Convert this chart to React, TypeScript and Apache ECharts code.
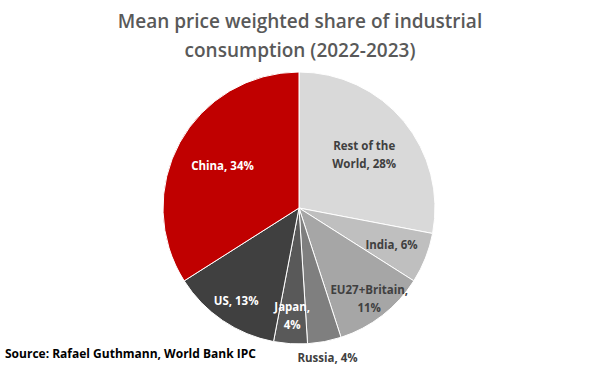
import React, { useEffect, useRef } from "react";
import * as echarts from "echarts";

const categories = ["Rest of the World", "India", "EU27+Britain", "Russia", "Japan", "US", "China"];
const shares = [28, 6, 11, 4, 4, 13, 34];
const labelTexts = ["Rest of the\nWorld, 28%", "India, 6%", "EU27+Britain,\n11%", "Russia, 4%", "Japan,\n4%", "US, 13%", "China, 34%"];
const sliceColors = ["#d9d9d9", "#bfbfbf", "#a6a6a6", "#7f7f7f", "#595959", "#404040", "#c00000"];
const labelColors = ["#404040", "#404040", "#404040", "#404040", "#ffffff", "#ffffff", "#ffffff"];
const labelRadial = [0.6, 0.71, 0.82, 1.1, 0.77, 0.8, 0.62];

const TITLE = "Mean price weighted share of industrial\nconsumption (2022-2023)";
const SOURCE = "Source: Rafael Guthmann, World Bank IPC";

export default function App() {
  const ref = useRef<HTMLDivElement>(null);
  useEffect(() => {
    document.body.style.margin = "0";
    const chart = echarts.init(ref.current!, null, { renderer: "svg" });
    const total = shares.reduce((a, b) => a + b, 0);
    const mids: number[] = [];
    let acc = 0;
    shares.forEach((v) => {
      mids.push(((acc + v / 2) / total) * Math.PI * 2);
      acc += v;
    });
    const R = 136;
    chart.setOption({
      animation: false,
      backgroundColor: "#ffffff",
      title: {
        text: TITLE,
        left: "center",
        top: 1,
        textStyle: {
          fontFamily: "Open Sans",
          fontWeight: 600,
          fontSize: 19,
          lineHeight: 29,
          color: "#595959",
        },
      },
      graphic: [
        {
          type: "text",
          left: 5,
          top: 347,
          style: {
            text: SOURCE,
            fontFamily: "Open Sans",
            fontWeight: "bold",
            fontSize: 12,
            fill: "#000000",
          },
        },
      ],
      series: [
        {
          type: "pie",
          center: [299, 208],
          radius: [0, R],
          startAngle: 90,
          clockwise: true,
          avoidLabelOverlap: false,
          itemStyle: { borderColor: "#ffffff", borderWidth: 1 },
          label: {
            show: true,
            position: "inside",
            fontFamily: "Open Sans",
            fontWeight: "bold",
            fontSize: 11.5,
            lineHeight: 18,
            align: "center",
          },
          labelLine: { show: false },
          labelLayout: (params: any) => {
            const i = params.dataIndex;
            const a = mids[i];
            const extra = (labelRadial[i] - 0.5) * R;
            return { dx: extra * Math.sin(a), dy: -extra * Math.cos(a) };
          },
          data: categories.map((name, i) => ({
            name,
            value: shares[i],
            itemStyle: { color: sliceColors[i] },
            label: { formatter: labelTexts[i], color: labelColors[i] },
          })),
        },
      ],
    });
    return () => chart.dispose();
  }, []);
  return <div ref={ref} style={{ width: 600, height: 374 }} />;
}
